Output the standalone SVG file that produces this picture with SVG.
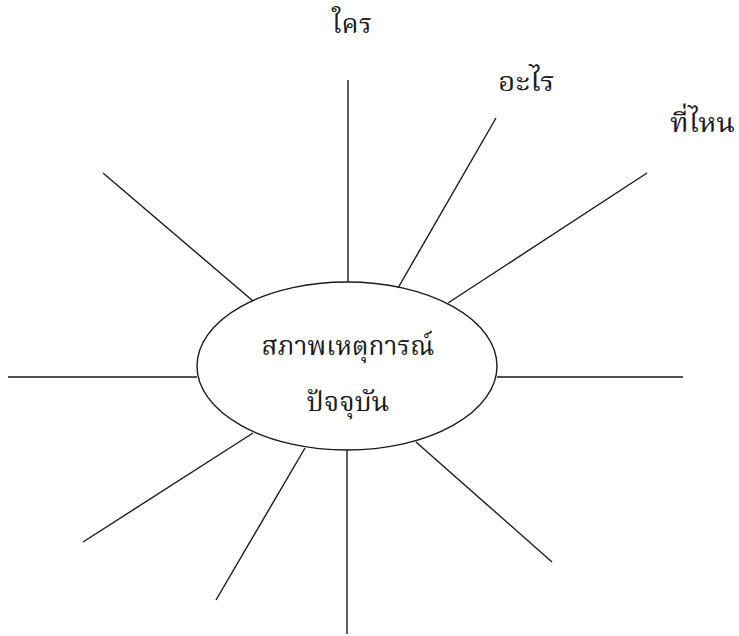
<svg xmlns="http://www.w3.org/2000/svg" width="739" height="636" viewBox="0 0 739 636">
<style>
.ln{stroke:#1a1a1a;stroke-width:1.4;fill:none;stroke-linecap:butt}
.t{font-family:"Noto Serif Thai","Noto Sans Thai","Loma","Garuda","Noto Sans",serif;fill:#1a1a1a;font-size:27px}
</style>
<rect width="739" height="636" fill="#ffffff"/>
<g id="connectors">
<line class="ln" x1="348" y1="80" x2="348" y2="282"/>
<line class="ln" x1="496" y1="118" x2="398" y2="288"/>
<line class="ln" x1="647" y1="173" x2="448" y2="303"/>
<line class="ln" x1="103" y1="173" x2="253" y2="301"/>
<line class="ln" x1="8" y1="377" x2="197" y2="377"/>
<line class="ln" x1="497" y1="377" x2="683" y2="377"/>
<line class="ln" x1="253" y1="433" x2="83" y2="542"/>
<line class="ln" x1="305" y1="448" x2="216" y2="600"/>
<line class="ln" x1="347" y1="450" x2="347" y2="634"/>
<line class="ln" x1="416" y1="442" x2="552" y2="562"/>
</g>
<g id="center">
<ellipse class="ln" cx="347" cy="366" rx="150" ry="84"/>
<text class="t" x="348" y="355" text-anchor="middle" font-size="30" textLength="173" lengthAdjust="spacingAndGlyphs">สภาพเหตุการณ์</text>
<text class="t" x="348" y="411" text-anchor="middle" font-size="30" textLength="83" lengthAdjust="spacingAndGlyphs">ปัจจุบัน</text>
</g>
<g id="who"><text class="t" x="332" y="33" textLength="40" lengthAdjust="spacingAndGlyphs">ใคร</text></g>
<g id="what"><text class="t" x="498" y="91" textLength="57" lengthAdjust="spacingAndGlyphs">อะไร</text></g>
<g id="where"><text class="t" x="670" y="132" textLength="65" lengthAdjust="spacingAndGlyphs">ที่ไหน</text></g>
</svg>
